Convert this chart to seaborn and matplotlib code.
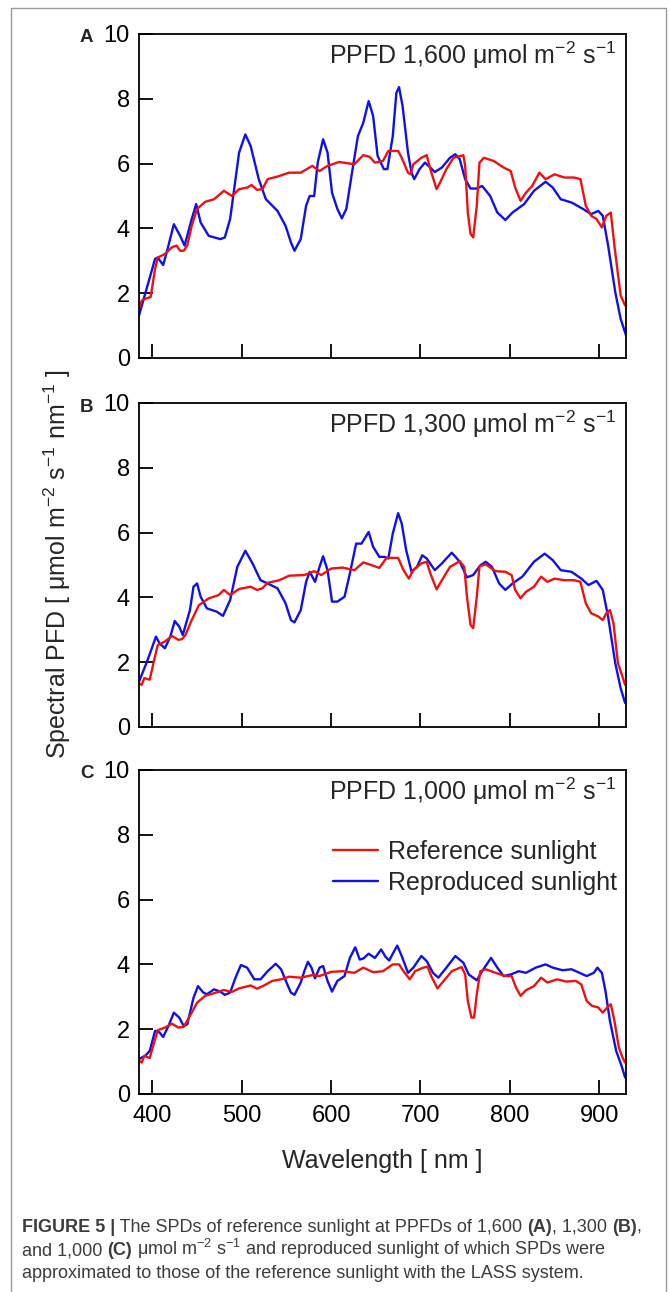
import matplotlib
matplotlib.use("Agg")
import matplotlib.pyplot as plt
from matplotlib.lines import Line2D
import pandas as pd
import seaborn as sns

# ---- data (wavelength nm, spectral PFD) ----
# panel A, PPFD 1,600
a_ref_wl = [385, 388, 392, 398, 403, 406, 414, 422, 427, 431, 435, 439, 444, 450, 459, 469, 480, 489, 497, 506,
            511, 517, 523, 529, 540, 553, 566, 579, 587, 596, 609, 626, 636, 643, 649, 658, 664, 675, 679, 686,
            689, 692, 701, 707, 711, 718, 722, 729, 737, 748, 750, 753, 756, 759, 763, 766, 771, 782, 793, 801,
            806, 812, 818, 825, 833, 840, 850, 861, 872, 879, 885, 891, 897, 903, 908, 913, 917, 924, 929]
a_ref = [1.52, 1.77, 1.83, 1.88, 2.75, 3.10, 3.21, 3.42, 3.47, 3.31, 3.31, 3.47, 4.08, 4.60, 4.82, 4.90, 5.16, 5.00,
         5.21, 5.26, 5.34, 5.19, 5.21, 5.52, 5.60, 5.72, 5.72, 5.93, 5.77, 5.93, 6.05, 5.98, 6.26, 6.21, 6.03, 6.08,
         6.39, 6.39, 6.18, 5.72, 5.67, 5.98, 6.18, 6.26, 5.83, 5.21, 5.42, 5.83, 6.18, 6.26, 5.93, 4.49, 3.83, 3.72,
         4.70, 6.03, 6.18, 6.08, 5.88, 5.77, 5.26, 4.85, 5.10, 5.31, 5.72, 5.52, 5.67, 5.57, 5.57, 5.52, 4.70, 4.39,
         4.29, 4.03, 4.39, 4.49, 3.47, 1.93, 1.62]
a_rep_wl = [385, 403, 406, 412, 416, 424, 431, 436, 444, 449, 454, 463, 476, 481, 487, 493, 497, 504, 510, 519,
            527, 540, 549, 555, 559, 566, 572, 576, 581, 585, 591, 596, 601, 607, 612, 617, 624, 630, 636, 642,
            647, 652, 659, 663, 669, 673, 676, 680, 686, 690, 693, 699, 705, 709, 716, 724, 733, 739, 744, 750,
            756, 763, 769, 778, 786, 795, 803, 816, 827, 840, 848, 857, 869, 882, 891, 899, 904, 910, 918, 924, 930]
a_rep = [1.31, 3.06, 3.10, 2.87, 3.26, 4.13, 3.77, 3.47, 4.29, 4.75, 4.18, 3.77, 3.67, 3.72, 4.29, 5.52, 6.34, 6.90,
         6.54, 5.52, 4.90, 4.54, 4.08, 3.57, 3.31, 3.67, 4.70, 5.00, 5.00, 6.03, 6.75, 6.34, 5.10, 4.60, 4.31, 4.60,
         5.83, 6.85, 7.26, 7.93, 7.47, 6.24, 5.83, 5.83, 6.85, 8.18, 8.36, 7.77, 6.34, 5.72, 5.52, 5.83, 6.03, 5.93,
         5.74, 5.88, 6.18, 6.29, 6.13, 5.52, 5.23, 5.23, 5.31, 5.00, 4.49, 4.26, 4.49, 4.75, 5.16, 5.44, 5.26, 4.90,
         4.80, 4.60, 4.44, 4.54, 4.39, 3.47, 2.03, 1.21, 0.70]

# panel B, PPFD 1,300
b_ref_wl = [385, 388, 391, 397, 402, 406, 414, 422, 429, 433, 437, 444, 452, 463, 474, 480, 487, 497, 510, 517,
            523, 529, 542, 553, 570, 581, 589, 600, 613, 626, 636, 645, 654, 662, 675, 681, 687, 692, 701, 707,
            711, 718, 724, 733, 744, 749, 752, 756, 759, 763, 766, 773, 784, 795, 802, 806, 812, 818, 827, 835,
            842, 850, 861, 872, 879, 885, 891, 899, 904, 908, 912, 916, 921, 926, 929]
b_ref = [1.35, 1.30, 1.51, 1.46, 2.07, 2.53, 2.64, 2.81, 2.69, 2.71, 2.84, 3.30, 3.76, 3.97, 4.07, 4.23, 4.07, 4.26,
         4.33, 4.23, 4.28, 4.45, 4.53, 4.67, 4.69, 4.81, 4.69, 4.89, 4.92, 4.84, 5.08, 5.00, 4.91, 5.22, 5.22, 4.84,
         4.58, 4.84, 5.05, 5.10, 4.74, 4.25, 4.53, 4.94, 5.12, 4.94, 4.02, 3.15, 3.05, 4.02, 4.96, 5.02, 4.81, 4.79,
         4.69, 4.23, 3.97, 4.17, 4.33, 4.64, 4.48, 4.58, 4.53, 4.53, 4.48, 3.82, 3.51, 3.41, 3.30, 3.51, 3.61, 3.20,
         1.97, 1.56, 1.30]
b_rep_wl = [385, 394, 404, 408, 414, 420, 425, 430, 434, 442, 446, 450, 454, 461, 472, 479, 487, 495, 504, 512,
            521, 529, 540, 549, 555, 559, 566, 572, 576, 582, 587, 591, 596, 601, 607, 615, 621, 628, 634, 642,
            647, 654, 660, 664, 669, 675, 679, 684, 690, 696, 702, 707, 716, 724, 735, 744, 752, 759, 767, 773,
            780, 788, 795, 803, 814, 827, 839, 848, 857, 869, 880, 888, 897, 904, 910, 918, 924, 929]
b_rep = [1.40, 2.02, 2.79, 2.58, 2.43, 2.79, 3.27, 3.10, 2.84, 3.61, 4.33, 4.43, 4.02, 3.66, 3.56, 3.43, 3.92, 4.94,
         5.44, 5.05, 4.53, 4.43, 4.28, 3.82, 3.30, 3.23, 3.61, 4.48, 4.79, 4.48, 4.94, 5.27, 4.84, 3.87, 3.87, 4.02,
         4.74, 5.66, 5.66, 6.02, 5.56, 5.25, 5.25, 5.20, 5.97, 6.60, 6.28, 5.46, 4.79, 4.94, 5.30, 5.20, 4.84, 5.05,
         5.38, 5.10, 4.62, 4.69, 4.99, 5.10, 4.94, 4.43, 4.23, 4.43, 4.64, 5.10, 5.35, 5.15, 4.84, 4.79, 4.58, 4.38,
         4.51, 4.23, 3.40, 1.97, 1.20, 0.74]

# panel C, PPFD 1,000
c_ref_wl = [385, 388, 391, 397, 402, 406, 414, 422, 429, 435, 444, 450, 459, 469, 480, 489, 497, 510, 517, 525,
            534, 544, 553, 566, 579, 587, 600, 613, 626, 636, 647, 658, 669, 676, 681, 688, 694, 703, 708, 712,
            719, 726, 735, 746, 750, 753, 757, 760, 763, 767, 773, 784, 795, 802, 807, 812, 818, 827, 835, 842,
            853, 863, 874, 880, 886, 892, 899, 904, 909, 913, 917, 922, 926, 929]
c_ref = [1.03, 0.97, 1.18, 1.11, 1.59, 1.97, 2.05, 2.17, 2.05, 2.07, 2.51, 2.82, 3.03, 3.11, 3.21, 3.15, 3.26, 3.35,
         3.25, 3.35, 3.49, 3.54, 3.62, 3.59, 3.67, 3.64, 3.77, 3.79, 3.74, 3.90, 3.76, 3.79, 4.00, 4.00, 3.79, 3.54,
         3.79, 3.90, 3.93, 3.64, 3.26, 3.49, 3.79, 3.92, 3.69, 2.87, 2.36, 2.36, 3.08, 3.79, 3.85, 3.74, 3.64, 3.64,
         3.28, 3.03, 3.20, 3.33, 3.59, 3.44, 3.54, 3.47, 3.49, 3.38, 2.87, 2.72, 2.67, 2.51, 2.67, 2.77, 2.26, 1.44,
         1.13, 0.97]
c_rep_wl = [385, 392, 397, 403, 408, 412, 418, 424, 430, 435, 439, 446, 451, 457, 461, 469, 476, 481, 487, 493,
            499, 506, 514, 521, 529, 538, 544, 551, 555, 559, 566, 570, 574, 578, 582, 587, 591, 596, 601, 607,
            615, 621, 627, 632, 636, 642, 649, 656, 661, 665, 669, 674, 679, 686, 692, 701, 707, 714, 720, 729,
            739, 748, 754, 763, 769, 779, 786, 793, 801, 810, 818, 829, 840, 848, 859, 869, 878, 886, 894, 898,
            903, 907, 912, 919, 925, 929]
c_rep = [1.08, 1.18, 1.33, 1.95, 1.90, 1.76, 2.10, 2.51, 2.36, 2.10, 2.15, 2.97, 3.33, 3.13, 3.08, 3.23, 3.16, 3.06,
         3.13, 3.59, 3.98, 3.90, 3.54, 3.54, 3.79, 4.02, 3.85, 3.38, 3.13, 3.06, 3.44, 3.79, 4.08, 3.90, 3.57, 3.90,
         3.95, 3.49, 3.16, 3.49, 3.64, 4.20, 4.53, 4.15, 4.18, 4.33, 4.20, 4.46, 4.23, 4.12, 4.33, 4.58, 4.26, 3.74,
         3.90, 4.26, 4.10, 3.74, 3.59, 3.90, 4.26, 4.05, 3.69, 3.51, 3.79, 4.20, 3.90, 3.64, 3.69, 3.79, 3.74, 3.90,
         4.00, 3.90, 3.82, 3.85, 3.74, 3.64, 3.74, 3.90, 3.74, 3.18, 2.26, 1.33, 0.87, 0.51]

panel_letters = ["A", "B", "C"]
ppfd_labels = ["1,600", "1,300", "1,000"]
series_names = ["Reference sunlight", "Reproduced sunlight"]
x_ticks = [400, 500, 600, 700, 800, 900]
y_ticks = [0, 2, 4, 6, 8, 10]

RED = "#f01010"
BLUE = "#1010e8"
CAP_COLOR = "#3c3c3c"

# ---- style ----
sns.set_style("ticks")
plt.rcParams["font.family"] = ["Liberation Sans", "DejaVu Sans"]
plt.rcParams["mathtext.fontset"] = "custom"
plt.rcParams["mathtext.rm"] = "Liberation Sans"
plt.rcParams["mathtext.it"] = "Liberation Sans:italic"
plt.rcParams["mathtext.bf"] = "Liberation Sans:bold"

W, H = 670, 1292
TXT = 18
fig = plt.figure(figsize=(W / 100, H / 100), dpi=100, facecolor="white")

# outer frame of the figure box (bottom edge is cut off)
fig.add_artist(Line2D([11 / W, 11 / W, 666 / W, 666 / W], [-0.01, 1 - 8 / H, 1 - 8 / H, -0.01],
                      transform=fig.transFigure, color="#9a9a9a", lw=1.0))

panels = [
    (a_ref_wl, a_ref, a_rep_wl, a_rep, 34),
    (b_ref_wl, b_ref, b_rep_wl, b_rep, 403),
    (c_ref_wl, c_ref, c_rep_wl, c_rep, 770),
]

AX_L, AX_W, AX_H = 139, 487, 324
for i, (rwl, rval, pwl, pval, top) in enumerate(panels):
    ax = fig.add_axes([AX_L / W, 1 - (top + AX_H) / H, AX_W / W, AX_H / H])
    df_rep = pd.DataFrame({"wl": pwl, "pfd": pval})
    df_ref = pd.DataFrame({"wl": rwl, "pfd": rval})
    # blue first, red drawn on top
    sns.lineplot(data=df_rep, x="wl", y="pfd", ax=ax, color=BLUE, lw=1.7,
                 sort=False, estimator=None, legend=False)
    sns.lineplot(data=df_ref, x="wl", y="pfd", ax=ax, color=RED, lw=1.7,
                 sort=False, estimator=None, legend=False)
    for ln in ax.lines:
        ln.set_solid_joinstyle("round")

    ax.set_xlim(385, 930)
    ax.set_ylim(0, 10)
    ax.set_xticks(x_ticks)
    ax.set_yticks(y_ticks)
    ax.set_xlabel("")
    ax.set_ylabel("")
    for sp in ax.spines.values():
        sp.set_visible(True)
        sp.set_linewidth(1.3)
        sp.set_color("black")
    ax.tick_params(direction="in", length=10, width=1.3, labelsize=17, colors="black",
                   top=False, right=False)
    ax.tick_params(axis="y", pad=6.5)
    ax.tick_params(axis="x", pad=8)
    if i < 2:
        ax.tick_params(labelbottom=False)

    ax.text(0.979, 0.908, "PPFD " + ppfd_labels[i] + r" μmol m$^{-2}$ s$^{-1}$",
            transform=ax.transAxes, ha="right", va="baseline", fontsize=TXT)
    fig.text(80 / W, 1 - (top + 8.5) / H, panel_letters[i], fontsize=13.5,
             fontweight="bold", ha="left", va="baseline")

    if i == 2:
        handles = [Line2D([], [], color=RED, lw=1.7), Line2D([], [], color=BLUE, lw=1.7)]
        ax.legend(handles, series_names, loc="upper left", bbox_to_anchor=(0.398, 0.785),
                  frameon=False, fontsize=TXT, handlelength=1.8, handletextpad=0.4,
                  labelspacing=0.3, borderpad=0, borderaxespad=0)

fig.text(57 / W, 1 - 564 / H, r"Spectral PFD [ μmol m$^{-2}$ s$^{-1}$ nm$^{-1}$ ]",
         rotation=90, ha="center", va="center", fontsize=TXT)
fig.text(382.5 / W, 1 - 1161 / H, "Wavelength [ nm ]", ha="center", va="center", fontsize=TXT)

# ---- caption, with bold runs ----
caption_lines = [
    [("FIGURE 5 |", True), (" The SPDs of reference sunlight at PPFDs of 1,600 ", False), ("(A)", True),
     (", 1,300 ", False), ("(B)", True), (",", False)],
    [("and 1,000 ", False), ("(C)", True),
     (r" μmol m$^{-2}$ s$^{-1}$ and reproduced sunlight of which SPDs were", False)],
    [("approximated to those of the reference sunlight with the LASS system.", False)],
]
caption_y = [1232, 1255, 1278]
CAP_SIZE = 13

renderer = fig.canvas.get_renderer()


def run_width(s, bold):
    # width with a sentinel so that edge spaces are counted
    t1 = fig.text(0, 0, s + "|", fontsize=CAP_SIZE, fontweight="bold" if bold else "normal")
    t2 = fig.text(0, 0, "|", fontsize=CAP_SIZE, fontweight="bold" if bold else "normal")
    w = t1.get_window_extent(renderer).width - t2.get_window_extent(renderer).width
    t1.remove()
    t2.remove()
    return w


for runs, yy in zip(caption_lines, caption_y):
    x = 22
    for s, bold in runs:
        fig.text(x / W, 1 - yy / H, s, fontsize=CAP_SIZE, color=CAP_COLOR,
                 fontweight="bold" if bold else "normal", ha="left", va="baseline")
        x += run_width(s, bold)

fig.savefig("out.png", dpi=100, facecolor="white")
